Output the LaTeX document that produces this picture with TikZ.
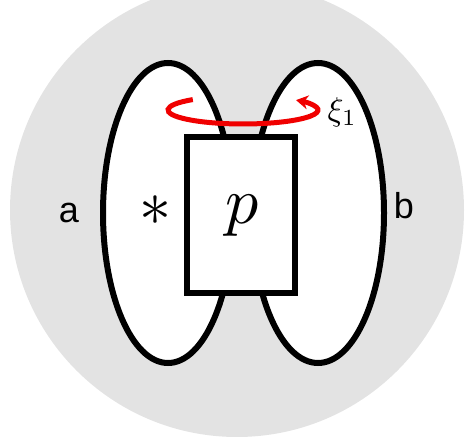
\documentclass[tikz,border=0pt]{standalone}
\usepackage{fontspec}
\newfontfamily\sansf{Liberation Sans}
\usetikzlibrary{shapes.geometric,arrows.meta}
\definecolor{bggray}{RGB}{227,227,227}
\definecolor{arcred}{RGB}{240,0,0}
\tikzset{
  x=1pt,y=1pt,
  lobe/.style={ellipse,draw=black,fill=white,line width=6pt,inner sep=0pt,outer sep=0pt},
  pbox/.style={rectangle,draw=black,fill=white,line width=6pt,inner sep=0pt,outer sep=0pt,minimum width=108pt,minimum height=156pt},
  sidelabel/.style={inner sep=0pt,anchor=base,font=\sansf\fontsize{36}{36}\selectfont},
  rot/.style={draw=arcred,line width=5pt,-{Stealth[length=12pt,width=14pt]}}
}
\begin{document}
\begin{tikzpicture}
\useasboundingbox (0,0) rectangle (465,444);
\fill[bggray] (237,234) circle[radius=227];
\node[lobe,minimum width=130pt,minimum height=300pt] (L) at (168,231) {};
\node[lobe,minimum width=132pt,minimum height=300pt] (R) at (318,231) {};
\node[pbox] (P) at (241,229) {};
\node[inner sep=0pt,scale=6.6] (plabel) at (242,228) {$p$};
\node[inner sep=0pt,scale=6.4] (star) at (155,233) {$\ast$};
\node[sidelabel] (a) at (69,221) {a};
\node[sidelabel] (b) at (404,225) {b};
\coordinate (rc) at (243,334);
\draw[rot] ([shift={(132:75 and 14)}]rc) arc[start angle=132,end angle=405,x radius=75,y radius=14];
\node[inner sep=0pt,scale=3.3,anchor=west] (xi) at (327,332) {$\xi_1$};
\end{tikzpicture}
\end{document}
